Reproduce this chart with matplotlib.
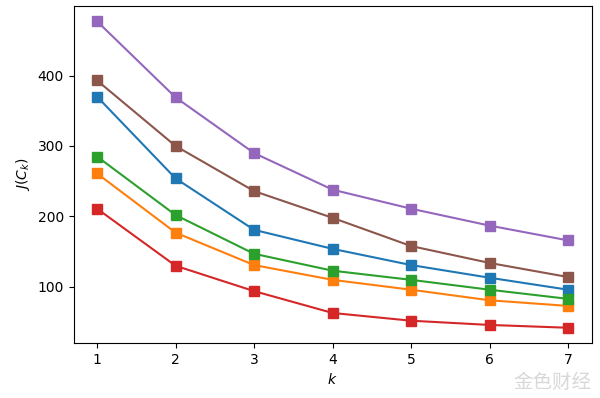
import numpy as np
import matplotlib
matplotlib.use('Agg')
import matplotlib.pyplot as plt

# number of clusters and cost curves J(C_k)
k = [1, 2, 3, 4, 5, 6, 7]
run_blue = [370, 254, 181, 154, 131, 113, 96]
run_orange = [261, 177, 131, 110, 96, 81, 73]
run_green = [285, 202, 147, 123, 110, 96, 83]
run_red = [211, 130, 94, 63, 52, 46, 42]
run_purple = [477, 369, 290, 238, 211, 187, 166]
run_brown = [393, 300, 236, 198, 158, 134, 114]

fig = plt.figure(figsize=(6, 3.98), dpi=100)
ax = fig.add_axes([0.1225, 0.138, 0.8635, 0.847])

for ys in [run_blue, run_orange, run_green, run_red, run_purple, run_brown]:
    ax.plot(k, ys, marker='s', markersize=7, linewidth=1.5)

ax.set_xlabel('$k$')
ax.set_ylabel('$J(C_k)$')
ax.set_yticks([100, 200, 300, 400])

# watermark
fig.text(0.985, 0.012, '金色财经', family=['Noto Sans CJK SC', 'DejaVu Sans'],
         fontsize=14, color='#d8d8d8', ha='right', va='bottom')

fig.savefig('out.png', dpi=100)
